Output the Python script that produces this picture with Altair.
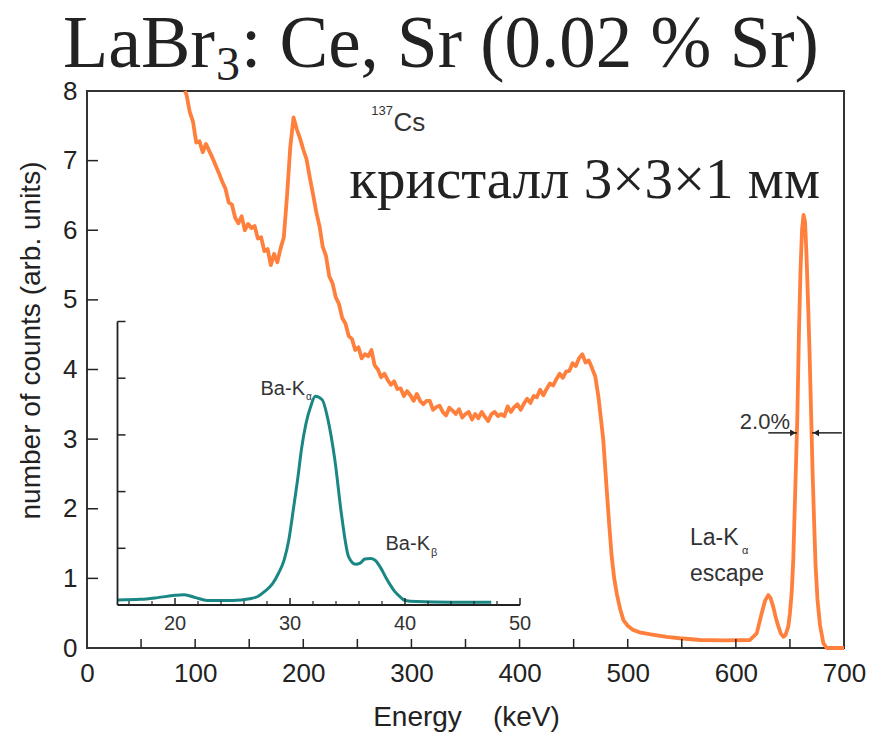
import altair as alt
import pandas as pd

# ---- 137Cs pulse-height spectrum, LaBr3:Ce,Sr crystal ----
energy = [
    90.5, 92, 95, 98, 101, 104, 107, 110, 113, 116,
    119, 122, 125, 128, 131, 134, 137, 140, 143, 146,
    149, 152, 155, 158, 161, 164, 167, 170, 173, 176,
    179, 182, 185, 188, 191, 194, 197, 200, 203, 206,
    209, 212, 215, 218, 221, 224, 227, 230, 233, 236,
    239, 242, 245, 248, 251, 254, 257, 260, 263, 266,
    269, 272, 275, 278, 281, 284, 287, 290, 293, 296,
    299, 302, 305, 308, 311, 314, 317, 320, 323, 326,
    329, 332, 335, 338, 341, 344, 347, 350, 353, 356,
    359, 362, 365, 368, 371, 374, 377, 380, 383, 386,
    389, 392, 395, 398, 401, 404, 407, 410, 413, 416,
    419, 422, 425, 428, 431, 434, 437, 440, 443, 446,
    449, 452, 455, 458, 461, 464, 467, 470, 473,
    477.4, 480.6, 483, 485.2, 487.5, 490, 493, 496, 500, 505,
    512, 524, 536, 548, 567, 590, 613, 619.3, 623.9, 627,
    630, 632, 634.6, 637, 639.3, 641.5, 644, 646, 648.5, 650,
    651.6, 653.1, 655.2, 656.8, 658.4, 659.8, 661.2, 662.6, 664.0, 665.3,
    666.7, 668.1, 669.5, 670.9, 672.3, 673.7, 675.5, 677.8, 680.9, 684,
    700,
]
counts = [
    8.00, 7.95, 7.70, 7.56, 7.26, 7.28, 7.12, 7.24, 7.14, 7.04,
    6.93, 6.82, 6.70, 6.60, 6.40, 6.37, 6.18, 6.10, 6.20, 6.00,
    6.09, 6.03, 6.06, 5.88, 5.90, 5.70, 5.73, 5.50, 5.66, 5.54,
    5.74, 5.90, 6.50, 7.20, 7.62, 7.45, 7.32, 7.16, 7.02, 6.76,
    6.52, 6.26, 6.06, 5.76, 5.63, 5.34, 5.24, 5.04, 4.94, 4.74,
    4.66, 4.48, 4.44, 4.28, 4.32, 4.16, 4.22, 4.19, 4.28, 4.06,
    4.00, 3.89, 3.94, 3.85, 3.78, 3.83, 3.72, 3.73, 3.62, 3.69,
    3.63, 3.55, 3.65, 3.55, 3.50, 3.55, 3.55, 3.42, 3.46, 3.48,
    3.39, 3.34, 3.45, 3.41, 3.36, 3.43, 3.31, 3.36, 3.39, 3.28,
    3.36, 3.30, 3.39, 3.32, 3.26, 3.36, 3.39, 3.33, 3.36, 3.33,
    3.47, 3.39, 3.46, 3.50, 3.42, 3.51, 3.58, 3.52, 3.62, 3.60,
    3.71, 3.63, 3.72, 3.80, 3.77, 3.86, 3.94, 3.88, 3.97, 3.98,
    4.09, 4.05, 4.16, 4.22, 4.10, 4.13, 4.02, 3.90, 3.60,
    2.99, 2.27, 1.75, 1.31, 1.00, 0.77, 0.56, 0.40, 0.32, 0.26,
    0.22, 0.19, 0.16, 0.14, 0.115, 0.11, 0.115, 0.21, 0.50, 0.68,
    0.76, 0.72, 0.59, 0.43, 0.31, 0.21, 0.16, 0.19, 0.31, 0.50,
    0.79, 1.27, 2.42, 3.28, 4.57, 5.43, 6.01, 6.22, 6.12, 5.65,
    5.00, 4.28, 3.42, 2.56, 1.84, 1.19, 0.69, 0.33, 0.07, 0.0,
    0.0,
]
assert len(energy) == len(counts)

# ---- inset: Ba K x-ray region ----
inset_energy = [15, 17, 18.5, 20, 20.8, 21.8, 22.8, 25, 26.5, 27.2,
                27.8, 28.5, 29.0, 29.5, 29.9, 30.3, 30.7, 31.0, 31.4, 31.8,
                32.2, 32.8, 33.3, 33.9, 34.5, 35.1, 35.7, 36.1, 36.5, 37.0,
                37.4, 37.9, 38.3, 38.7, 39.1, 39.6, 40.0, 41, 44, 47.5]
inset_counts = [0.09, 0.10, 0.13, 0.17, 0.18, 0.13, 0.08, 0.08, 0.11, 0.15,
                0.24, 0.38, 0.56, 0.80, 1.15, 1.70, 2.27, 2.75, 3.21, 3.50,
                3.68, 3.62, 3.27, 2.56, 1.56, 0.85, 0.72, 0.74, 0.81, 0.82,
                0.79, 0.65, 0.50, 0.36, 0.24, 0.14, 0.08, 0.06, 0.05, 0.05]

# axis values
x_labels = [0, 100, 200, 300, 400, 500, 600, 700]
x_ticks = [50, 100, 150, 200, 250, 300, 350, 400, 450, 500, 550, 600, 650]
y_labels = [0, 1, 2, 3, 4, 5, 6, 7, 8]
y_ticks = [1, 2, 3, 4, 5, 6, 7]
inset_x_labels = [20, 30, 40, 50]
inset_x_minor = [16, 18, 22, 24, 26, 28, 32, 34, 36, 38, 42, 44, 46, 48]
inset_y_ticks = [1, 2, 3, 4, 5]

# FWHM marker (keV, counts)
fwhm_y = 3.09
fwhm_left = [630, 656.5]
fwhm_right = [698, 670.5]

ORANGE = "#FF7F3C"
TEAL = "#1A8784"
INK = "#222222"
SANS = "Liberation Sans"
SERIF = "Liberation Serif"

W, H = 757, 557
PAD = {"left": 87, "top": 91, "right": 26, "bottom": 86}

# every main-panel layer uses the same fixed domains, so the
# independent resolution below keeps them aligned
def xs():
    return alt.Scale(domain=[0, 700], nice=False, zero=False)


def ys():
    return alt.Scale(domain=[0, 8], nice=False)


spec = pd.DataFrame({"energy": energy, "counts": counts})

curve = alt.Chart(spec).mark_line(
    color=ORANGE, strokeWidth=3.8, strokeJoin="round"
).encode(
    x=alt.X("energy:Q", scale=xs(), axis=alt.Axis(
        values=x_labels, ticks=False, domain=False, grid=False,
        labelFontSize=26, labelFont=SANS, labelColor=INK, labelPadding=12,
        labelFlush=False, title="Energy\u00a0\u00a0\u00a0\u00a0(keV)",
        titleFont=SANS, titleFontSize=28, titleFontWeight="normal",
        titleColor=INK, titleX=379, titleY=77, titleBaseline="alphabetic",
        titleAlign="center", orient="bottom")),
    y=alt.Y("counts:Q", scale=ys(), axis=alt.Axis(
        values=y_labels, ticks=False, domain=False, grid=False,
        labelFontSize=26, labelFont=SANS, labelColor=INK, labelPadding=10,
        labelFlush=False, title="number of counts (arb. units)",
        titleFont=SANS, titleFontSize=28, titleFontWeight="normal",
        titleColor=INK, titleX=-56, titleY=249, titleAngle=270,
        titleBaseline="middle", titleAlign="center", orient="left")),
)

xt = alt.Chart(pd.DataFrame({"t": x_ticks})).mark_rule(color=INK, strokeWidth=1.5).encode(
    x=alt.X("t:Q", scale=xs(), axis=None), y=alt.value(H), y2=alt.value(H - 9))
yt = alt.Chart(pd.DataFrame({"t": y_ticks})).mark_rule(color=INK, strokeWidth=1.5).encode(
    y=alt.Y("t:Q", scale=ys(), axis=None), x=alt.value(0), x2=alt.value(11))

# FWHM arrows
arrows = pd.DataFrame({"a": [fwhm_left[0], fwhm_right[0]], "b": [fwhm_left[1], fwhm_right[1]],
                       "y": [fwhm_y, fwhm_y]})
arrow_lines = alt.Chart(arrows).mark_rule(color=INK, strokeWidth=1.5).encode(
    x=alt.X("a:Q", scale=xs(), axis=None), x2="b:Q", y=alt.Y("y:Q", scale=ys(), axis=None))
head_l = alt.Chart(pd.DataFrame({"x": [fwhm_left[1]], "y": [fwhm_y]})).mark_point(
    shape="triangle-right", filled=True, color=INK, size=45, opacity=1, xOffset=-4
).encode(x=alt.X("x:Q", scale=xs(), axis=None), y=alt.Y("y:Q", scale=ys(), axis=None))
head_r = alt.Chart(pd.DataFrame({"x": [fwhm_right[1]], "y": [fwhm_y]})).mark_point(
    shape="triangle-left", filled=True, color=INK, size=45, opacity=1, xOffset=4
).encode(x=alt.X("x:Q", scale=xs(), axis=None), y=alt.Y("y:Q", scale=ys(), axis=None))


def label(text, x, y, size, font=SANS, align="left", color=INK):
    return alt.Chart(pd.DataFrame({"t": [text]})).mark_text(
        font=font, fontSize=size, align=align, baseline="alphabetic", color=color
    ).encode(text="t:N", x=alt.value(x), y=alt.value(y))


texts = [
    # title
    label("LaBr", 128, -24, 74, SERIF, "right"),
    label("3", 129, -11, 48, SERIF),
    label(": Ce, Sr (0.02 % Sr)", 154, -24, 73, SERIF),
    # source and crystal
    label("137", 306, 23.5, 13, SANS, "right", "#333"),
    label("Cs", 306.5, 40, 26, SANS, "left", "#333"),
    label("кристалл 3×3×1 мм", 733, 107, 57, SERIF, "right"),
    # peak annotations
    label("2.0%", 703, 337.5, 22, SANS, "right", "#333"),
    label("La-K", 603, 453.5, 23, SANS, "left", "#333"),
    label("α", 655, 463, 11, SANS, "left", "#333"),
    label("escape", 603, 490, 23, SANS, "left", "#333"),
    label("Ba-K", 218, 304, 20, SANS, "right", "#333"),
    label("α", 219, 309, 10, SANS, "left", "#333"),
    label("Ba-K", 343, 458.5, 20, SANS, "right", "#333"),
    label("β", 344, 464.5, 11, SANS, "left", "#333"),
]

# ---- inset panel, drawn with its own scales ----
IB, IT = 514, 230.5          # inset bottom / top (px in plot area)


def isx():
    return alt.Scale(domain=[15, 50], range=[30.5, 433], nice=False, zero=False)


def isy():
    return alt.Scale(domain=[0, 5], range=[IB, IT], nice=False)


inset_line = alt.Chart(pd.DataFrame({"e": inset_energy, "c": inset_counts})).mark_line(
    color=TEAL, strokeWidth=3, strokeJoin="round", interpolate="monotone"
).encode(x=alt.X("e:Q", scale=isx(), axis=None), y=alt.Y("c:Q", scale=isy(), axis=None))

inset_axes = alt.Chart(pd.DataFrame({"x": [15, 15], "x2": [50, 15], "y": [0, 0], "y2": [0, 5]})).mark_rule(
    color=INK, strokeWidth=1.8
).encode(x=alt.X("x:Q", scale=isx(), axis=None), x2="x2:Q",
         y=alt.Y("y:Q", scale=isy(), axis=None), y2="y2:Q")

inset_major = alt.Chart(pd.DataFrame({"t": inset_x_labels})).mark_rule(color=INK, strokeWidth=1.5).encode(
    x=alt.X("t:Q", scale=isx(), axis=None), y=alt.value(IB), y2=alt.value(IB - 7))
inset_minor = alt.Chart(pd.DataFrame({"t": inset_x_minor})).mark_rule(color=INK, strokeWidth=1.2).encode(
    x=alt.X("t:Q", scale=isx(), axis=None), y=alt.value(IB), y2=alt.value(IB - 4))
inset_yt = alt.Chart(pd.DataFrame({"t": inset_y_ticks})).mark_rule(color=INK, strokeWidth=1.5).encode(
    y=alt.Y("t:Q", scale=isy(), axis=None), x=alt.value(30.5), x2=alt.value(38.5))
inset_lab = alt.Chart(pd.DataFrame({"t": inset_x_labels})).mark_text(
    font=SANS, fontSize=20, baseline="top", color="#333", dy=9
).encode(x=alt.X("t:Q", scale=isx(), axis=None), y=alt.value(IB), text="t:Q")

chart = alt.layer(
    curve, xt, yt, arrow_lines, head_l, head_r,
    inset_line, inset_axes, inset_major, inset_minor, inset_yt, inset_lab,
    *texts
).resolve_scale(
    x="independent", y="independent"
).properties(
    width=W, height=H, padding=PAD, autosize=alt.AutoSizeParams(type="none"),
    background="white"
).configure_view(stroke="#333", strokeWidth=2)

chart.save("out.html", embed_options={"renderer": "svg", "actions": False})
